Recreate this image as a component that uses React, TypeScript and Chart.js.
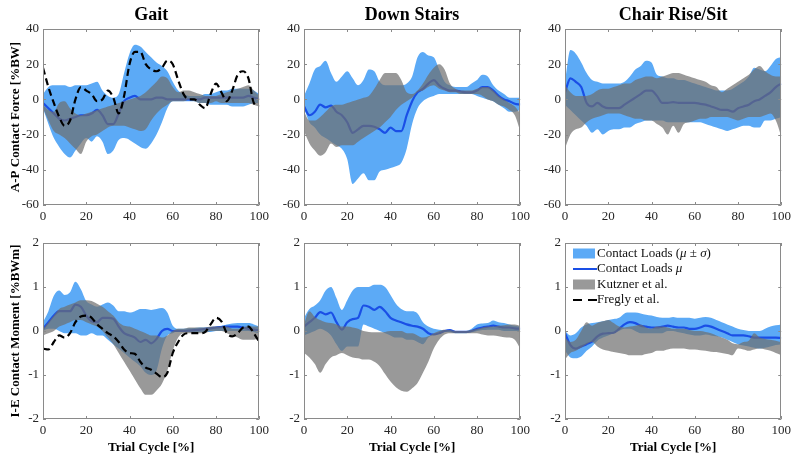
import React, { useEffect, useRef } from 'react';
import { Chart, registerables } from 'chart.js';

Chart.register(...registerables);

// ---------------- data ----------------
const TRIAL = [0, 2.5, 5, 7.5, 10, 12.5, 15, 17.5, 20, 22.5, 25, 27.5, 30, 32.5, 35, 37.5, 40, 42.5, 45, 47.5, 50, 52.5, 55, 57.5, 60, 62.5, 65, 67.5, 70, 72.5, 75, 77.5, 80, 82.5, 85, 87.5, 90, 92.5, 95, 97.5, 100];

const PANEL_TITLES = ['Gait', 'Down Stairs', 'Chair Rise/Sit'];
const Y_TITLES = ['A-P Contact Force [%BW]', 'I-E Contact Moment [%BWm]'];
const X_TITLE = 'Trial Cycle [%]';
const LEGEND_LABELS = ['Contact Loads (μ ± σ)', 'Contact Loads μ', 'Kutzner et al.', 'Fregly et al.'];

// Gait, A-P force
const GAIT_AP_BLUE_UP = [3, 7, 8, 8, 8, 7, 8, 8, 8, 9, 10, 5, 2, 1, 3, 15, 26, 31, 30, 27, 24, 21, 19, 16, 10, 5, 3, 2, 2, 2, 3, 3, 4, 5, 5, 6, 6, 6, 6, 5, 3];
const GAIT_AP_BLUE_LO = [-5, -14, -22, -27, -31, -33, -29, -25, -22, -24, -21, -24, -31, -29, -23, -22, -23, -25, -27, -28, -25, -20, -13, -5, -1, -1, -1, -1, -1, -2, -2, -3, -3, -3, -3, -4, -4, -4, -3, -2, -2];
const GAIT_AP_BLUE_MEAN = [-2, -5, -8, -11, -12, -11, -10, -9, -9, -8, -6, -9, -14, -14, -8, -1, 1, 2, 0, 0, 0, 1, 1, 0, 0, 0, 0, 0, 0, 0, 1, 1, 1, 1, 1, 1, 1, 1, 2, 1, 0];
const GAIT_AP_GRAY_UP = [-3, -6, -7, -2, -1, -5, -8, -9, -8, -7, -6, -5, -4, -3, -2, -1, 0, 1, 2, 4, 7, 10, 13, 12, 7, 4, 5, 5, 4, 3, 2, 2, 2, 3, 4, 5, 6, 7, 8, 5, 2];
const GAIT_AP_GRAY_LO = [-5, -12, -18, -20, -22, -25, -28, -31, -24, -21, -20, -18, -16, -15, -15, -15, -16, -17, -18, -17, -12, -8, -5, -3, -1, -1, -1, 0, -1, -2, -2, -2, -1, -2, -2, -2, -2, -2, -2, -3, -4];
const GAIT_AP_FREGLY = [18, 7, -2, -10, -15, -12, 0, 7, 5, 3, -1, 0, 5, 1, -8, 2, 20, 27, 27, 20, 17, 16, 18, 22, 20, 11, 3, 0, 0, -3, -5, 3, 9, 4, -1, 5, 14, 16, 12, -2, -4];

// Down stairs, A-P force
const DS_AP_BLUE_UP = [2, 9, 17, 19, 22, 15, 10, 13, 16, 12, 8, 11, 17, 16, 10, 8, 8, 8, 8, 9, 13, 24, 27, 25, 24, 17, 10, 8, 7, 7, 7, 9, 11, 14, 13, 8, 5, 3, 1, 1, 1];
const DS_AP_BLUE_LO = [-5, -13, -16, -20, -22, -24, -26, -28, -34, -48, -45, -42, -46, -46, -41, -40, -39, -38, -36, -28, -14, -5, -1, 1, 2, 3, 3, 3, 3, 3, 3, 3, 2, 1, 0, -1, -3, -5, -7, -7, -6];
const DS_AP_BLUE_MEAN = [-4, -9, -7, -3, -4.5, -3.5, -7, -9, -13, -19, -17, -15, -15, -15.5, -17, -19, -16, -18, -18, -9, -1, 4, 6, 9, 11, 8, 6, 5, 5, 4.5, 4, 4, 5, 7, 7, 5, 2, 0, -1, -2.5, -3];
const DS_AP_GRAY_UP = [-7, -12, -12, -10, -7, -4, -3, -3, -2, -1, 0, 1, 2, 6, 11, 15, 15, 15, 11, 4, 3, 5, 9, 14, 18, 20, 17, 9, 6, 5, 5, 5, 6, 7, 7, 5, 2, 0, -2, -4, -8];
const DS_AP_GRAY_LO = [-18, -25, -29, -32, -30, -25, -27, -26, -26, -26, -24, -22, -20, -18, -16, -13, -10, -6, -3, -1, 1, 4, 5, 7, 8, 6, 5, 4, 4, 3, 3, 3, 3, 2, 0, -1, -3, -4, -6, -9, -18];

// Chair rise/sit, A-P force
const CR_AP_BLUE_UP = [10, 28, 26, 21, 15, 11, 10, 9, 9, 9, 9, 10, 13, 17, 19, 22, 21, 14, 13, 12, 12, 11, 11, 10, 9, 8, 7, 6, 5, 5, 5, 6, 8, 10, 13, 18, 17, 16, 19, 23, 24];
const CR_AP_BLUE_LO = [-3, -6, -9, -12, -15, -19, -17, -20, -18, -17, -17, -16, -16, -14, -13, -12, -12, -12, -12, -13, -13, -13, -13, -13, -13, -13, -14, -15, -16, -17, -18, -17, -16, -15, -15, -16, -16, -12, -12, -11, -10];
const CR_AP_BLUE_MEAN = [4, 12, 10, 7, -2, -4, -2, -4, -5, -5, -5, -3, -1, 1, 3, 5, 5, 2, -2, -2, -1.5, -2, -2, -2, -2, -2.5, -3, -4, -5, -6, -6, -7, -5, -4, -3, -1, 0, 2, 4, 7, 9];
const CR_AP_GRAY_UP = [8, 4, 2, 2, 2, 3, 5, 6, 6, 7, 8, 9, 9, 11, 12, 13, 13, 12, 13, 14, 15, 15, 14, 13, 12, 11, 10, 8, 7, 4, 6, 8, 10, 12, 14, 17, 19, 16, 14, 13, 13];
const CR_AP_GRAY_LO = [-28, -20, -17, -16, -13, -11, -10, -9, -8, -8, -8, -9, -10, -11, -11, -12, -12, -14, -16, -20, -15, -19, -14, -13, -12, -11, -11, -10, -10, -10, -10, -11, -12, -11, -10, -10, -10, -9, -8, -12, -21];

// Gait, I-E moment
const GAIT_IE_BLUE_UP = [0.2, 0.45, 0.8, 0.92, 0.82, 0.88, 1.12, 0.95, 0.68, 0.6, 0.55, 0.6, 0.65, 0.58, 0.45, 0.45, 0.42, 0.45, 0.5, 0.5, 0.48, 0.5, 0.52, 0.42, 0.12, 0.05, 0.05, 0.06, 0.07, 0.08, 0.08, 0.09, 0.1, 0.12, 0.15, 0.17, 0.18, 0.18, 0.18, 0.15, 0.1];
const GAIT_IE_BLUE_LO = [0.0, 0.05, 0.05, 0.0, -0.05, -0.05, -0.05, -0.1, -0.1, -0.05, -0.1, -0.1, -0.2, -0.3, -0.4, -0.5, -0.6, -0.7, -0.8, -0.95, -1.0, -0.9, -0.4, -0.1, -0.05, 0, -0.02, -0.02, -0.02, -0.02, -0.02, -0.02, 0, 0, 0, 0, 0, 0, 0, -0.02, -0.05];
const GAIT_IE_BLUE_MEAN = [0.05, 0.2, 0.35, 0.45, 0.45, 0.45, 0.6, 0.55, 0.35, 0.22, 0.2, 0.3, 0.3, 0.28, 0.1, -0.05, -0.1, -0.15, -0.25, -0.2, -0.28, -0.18, 0, 0.05, 0, 0, 0, 0.01, 0.02, 0.03, 0.05, 0.06, 0.08, 0.09, 0.1, 0.1, 0.1, 0.08, 0.05, 0.03, 0.02];
const GAIT_IE_GRAY_UP = [0.05, 0.2, 0.35, 0.5, 0.55, 0.6, 0.65, 0.7, 0.7, 0.68, 0.62, 0.55, 0.45, 0.35, 0.2, 0.12, 0.1, 0.05, 0.0, -0.05, -0.1, -0.1, -0.15, -0.1, 0.0, 0.05, 0.05, 0.08, 0.08, 0.08, 0.08, 0.1, 0.1, 0.1, 0.1, 0.05, 0.05, 0.08, 0.12, 0.1, 0.1];
const GAIT_IE_GRAY_LO = [-0.1, -0.05, 0.0, 0.1, 0.15, 0.2, 0.25, 0.25, 0.2, 0.15, 0.1, 0.0, -0.15, -0.3, -0.5, -0.7, -0.9, -1.1, -1.3, -1.45, -1.45, -1.35, -1.2, -0.9, -0.45, -0.15, -0.05, -0.05, -0.05, -0.05, -0.05, 0, 0, 0, -0.05, -0.1, -0.15, -0.2, -0.2, -0.2, -0.15];
const GAIT_IE_FREGLY = [-0.4, -0.42, -0.25, -0.1, -0.15, -0.05, 0.2, 0.33, 0.35, 0.3, 0.15, 0.05, -0.05, -0.12, -0.25, -0.42, -0.5, -0.52, -0.7, -0.83, -0.88, -0.97, -1.05, -0.95, -0.5, -0.25, -0.08, -0.05, -0.05, -0.05, -0.02, 0.15, 0.3, 0.22, -0.05, -0.12, -0.05, 0.08, 0.1, -0.05, -0.25];

// Down stairs, I-E moment
const DS_IE_BLUE_UP = [0.3, 0.5, 0.58, 0.7, 0.92, 1.0, 0.75, 0.48, 0.7, 0.92, 1.0, 1.0, 1.0, 1.05, 1.05, 1.0, 0.82, 0.62, 0.5, 0.45, 0.45, 0.4, 0.2, 0.1, 0.05, 0.03, 0.02, 0, 0, 0, 0, 0.05, 0.15, 0.17, 0.18, 0.24, 0.2, 0.18, 0.15, 0.12, 0.1];
const DS_IE_BLUE_LO = [-0.1, -0.05, 0.0, 0.05, 0.0, -0.1, -0.3, -0.45, -0.35, -0.35, -0.35, 0.15, 0.1, 0.05, 0.0, -0.05, -0.1, -0.15, -0.15, -0.2, -0.2, -0.25, -0.3, -0.15, -0.08, -0.05, -0.02, -0.02, -0.05, -0.05, -0.05, -0.03, 0, 0.02, 0.03, 0.03, 0.03, 0, 0, 0, 0];
const DS_IE_BLUE_MEAN = [0.1, 0.2, 0.3, 0.43, 0.38, 0.42, 0.2, 0.03, 0.2, 0.27, 0.3, 0.58, 0.55, 0.48, 0.55, 0.45, 0.3, 0.24, 0.2, 0.15, 0.12, 0.1, 0.05, -0.05, -0.08, -0.05, 0, 0.02, -0.02, -0.02, -0.02, 0, 0.05, 0.08, 0.1, 0.12, 0.1, 0.08, 0.08, 0.06, 0.05];
const DS_IE_GRAY_UP = [0.15, 0.45, 0.32, 0.25, 0.2, 0.18, 0.15, 0.1, 0.1, 0.08, 0.05, 0, -0.02, -0.03, -0.03, -0.02, 0, 0, 0, -0.05, -0.05, -0.1, -0.15, -0.12, -0.05, 0, 0.03, 0.02, 0, 0, 0, 0.02, 0.05, 0.08, 0.1, 0.1, 0.12, 0.13, 0.15, 0.15, 0.12];
const DS_IE_GRAY_LO = [-0.5, -0.6, -0.75, -0.95, -0.75, -0.6, -0.55, -0.5, -0.55, -0.6, -0.62, -0.65, -0.65, -0.7, -0.8, -0.98, -1.15, -1.28, -1.36, -1.38, -1.3, -1.18, -0.95, -0.7, -0.4, -0.2, -0.08, -0.05, -0.05, -0.05, -0.05, -0.05, -0.05, -0.08, -0.1, -0.1, -0.12, -0.14, -0.15, -0.2, -0.4];

// Chair rise/sit, I-E moment
const CR_IE_BLUE_UP = [0.0, -0.1, -0.05, 0.08, 0.15, 0.18, 0.2, 0.22, 0.25, 0.27, 0.3, 0.4, 0.42, 0.42, 0.4, 0.37, 0.35, 0.32, 0.3, 0.3, 0.32, 0.3, 0.3, 0.3, 0.28, 0.3, 0.32, 0.3, 0.25, 0.2, 0.15, 0.1, 0.05, 0.02, 0.0, 0.0, 0.0, 0.05, 0.1, 0.13, 0.15];
const CR_IE_BLUE_LO = [-0.45, -0.6, -0.62, -0.58, -0.45, -0.35, -0.22, -0.15, -0.1, -0.05, 0.0, 0.05, 0.05, 0.0, -0.05, -0.05, -0.05, -0.05, -0.05, 0.0, 0.0, -0.03, -0.05, -0.08, -0.1, -0.1, -0.08, -0.1, -0.12, -0.15, -0.2, -0.25, -0.3, -0.33, -0.35, -0.38, -0.4, -0.38, -0.35, -0.32, -0.3];
const CR_IE_BLUE_MEAN = [-0.05, -0.32, -0.4, -0.35, -0.3, -0.24, -0.12, -0.06, -0.05, -0.04, 0.05, 0.15, 0.2, 0.18, 0.12, 0.1, 0.08, 0.08, 0.1, 0.12, 0.1, 0.08, 0.08, 0.05, 0.05, 0.08, 0.12, 0.1, 0.05, 0.0, -0.05, -0.1, -0.1, -0.1, -0.12, -0.15, -0.15, -0.15, -0.15, -0.15, -0.16];
const CR_IE_GRAY_UP = [-0.15, -0.25, -0.2, 0.0, 0.2, 0.12, 0.18, 0.22, 0.25, 0.18, 0.1, 0.08, 0.1, 0.12, 0.15, 0.08, 0.05, 0.1, 0.1, 0.08, 0.05, 0.05, 0.05, 0.02, 0.0, 0.0, -0.02, -0.05, -0.1, -0.15, -0.2, -0.28, -0.3, -0.25, -0.22, -0.05, -0.15, -0.18, -0.2, -0.22, -0.25];
const CR_IE_GRAY_LO = [-0.65, -0.5, -0.45, -0.38, -0.3, -0.25, -0.35, -0.42, -0.45, -0.48, -0.5, -0.52, -0.55, -0.55, -0.55, -0.52, -0.5, -0.45, -0.45, -0.42, -0.4, -0.4, -0.4, -0.42, -0.42, -0.44, -0.45, -0.47, -0.48, -0.5, -0.52, -0.55, -0.4, -0.42, -0.45, -0.42, -0.4, -0.42, -0.45, -0.5, -0.55];

const AP_TICKS = { min: -60, max: 40, step: 20 };
const IE_TICKS = { min: -2, max: 2, step: 1 };

// ---------------- styles ----------------
const FONT = '"Liberation Serif", "Times New Roman", serif';
const BLUE_BAND = 'rgb(92,170,246)';
const BLUE_LINE = '#1a4fe6';
const GRAY_BAND = 'rgba(110,110,110,0.7)';
const GRAY_PATCH = 'rgb(153,153,153)';
const FRAME = '#8a8a8a';
const TICK_COLOR = '#262626';

const PLOT_LEFT = [43, 304, 565];
const PLOT_W = 217;
const PLOT_TOP = [29, 243];
const PLOT_H = 176;
const Y_AXIS_W = 43;
const PAD_RIGHT = 13;

type PanelSpec = {
  row: number;
  col: number;
  bu: number[];
  bl: number[];
  bm: number[];
  gu: number[];
  gl: number[];
  fr?: number[];
};

const PANELS: PanelSpec[] = [
  { row: 0, col: 0, bu: GAIT_AP_BLUE_UP, bl: GAIT_AP_BLUE_LO, bm: GAIT_AP_BLUE_MEAN, gu: GAIT_AP_GRAY_UP, gl: GAIT_AP_GRAY_LO, fr: GAIT_AP_FREGLY },
  { row: 0, col: 1, bu: DS_AP_BLUE_UP, bl: DS_AP_BLUE_LO, bm: DS_AP_BLUE_MEAN, gu: DS_AP_GRAY_UP, gl: DS_AP_GRAY_LO },
  { row: 0, col: 2, bu: CR_AP_BLUE_UP, bl: CR_AP_BLUE_LO, bm: CR_AP_BLUE_MEAN, gu: CR_AP_GRAY_UP, gl: CR_AP_GRAY_LO },
  { row: 1, col: 0, bu: GAIT_IE_BLUE_UP, bl: GAIT_IE_BLUE_LO, bm: GAIT_IE_BLUE_MEAN, gu: GAIT_IE_GRAY_UP, gl: GAIT_IE_GRAY_LO, fr: GAIT_IE_FREGLY },
  { row: 1, col: 1, bu: DS_IE_BLUE_UP, bl: DS_IE_BLUE_LO, bm: DS_IE_BLUE_MEAN, gu: DS_IE_GRAY_UP, gl: DS_IE_GRAY_LO },
  { row: 1, col: 2, bu: CR_IE_BLUE_UP, bl: CR_IE_BLUE_LO, bm: CR_IE_BLUE_MEAN, gu: CR_IE_GRAY_UP, gl: CR_IE_GRAY_LO },
];

const pts = (arr: number[]) => TRIAL.map((x, i) => ({ x, y: arr[i] }));

const framePlugin = {
  id: 'matlabFrame',
  afterDatasetsDraw(chart: any) {
    const { ctx, chartArea, scales } = chart;
    const { left, right, top, bottom } = chartArea;
    ctx.save();
    ctx.strokeStyle = FRAME;
    ctx.lineWidth = 1;
    ctx.beginPath();
    ctx.rect(Math.round(left) + 0.5, Math.round(top) + 0.5, Math.round(right - left) - 1, Math.round(bottom - top) - 1);
    ctx.stroke();
    const L = 3;
    ctx.beginPath();
    scales.x.ticks.forEach((t: any) => {
      const px = Math.round(scales.x.getPixelForValue(t.value)) + 0.5;
      ctx.moveTo(px, bottom);
      ctx.lineTo(px, bottom - L);
      ctx.moveTo(px, top);
      ctx.lineTo(px, top + L);
    });
    scales.y.ticks.forEach((t: any) => {
      const py = Math.round(scales.y.getPixelForValue(t.value)) + 0.5;
      ctx.moveTo(left, py);
      ctx.lineTo(left + L, py);
      ctx.moveTo(right, py);
      ctx.lineTo(right - L, py);
    });
    ctx.stroke();
    ctx.restore();
  },
};

const LEGEND_STYLE = [
  { kind: 'patch', color: BLUE_BAND },
  { kind: 'line', color: BLUE_LINE, dash: [] as number[] },
  { kind: 'patch', color: GRAY_PATCH },
  { kind: 'line', color: '#000', dash: [9, 6] },
];

const splitItalic = (text: string) => {
  const segs: { t: string; it: boolean }[] = [];
  for (const ch of text) {
    const it = ch === 'μ' || ch === 'σ';
    const last = segs[segs.length - 1];
    if (last && last.it === it) last.t += ch;
    else segs.push({ t: ch, it });
  }
  return segs;
};

const legendPlugin = {
  id: 'insideLegend',
  afterDraw(chart: any, _args: any, opts: any) {
    if (!opts || !opts.show) return;
    const { ctx, chartArea } = chart;
    const x0 = chartArea.left + 8;
    ctx.save();
    LEGEND_LABELS.forEach((label, i) => {
      const st = LEGEND_STYLE[i];
      const cy = chartArea.top + 10.5 + i * 15.5;
      if (st.kind === 'patch') {
        ctx.fillStyle = st.color;
        ctx.fillRect(x0, cy - 5, 22, 10);
      } else {
        ctx.strokeStyle = st.color;
        ctx.lineWidth = 2;
        ctx.setLineDash(st.dash || []);
        ctx.beginPath();
        ctx.moveTo(x0, cy);
        ctx.lineTo(x0 + 24, cy);
        ctx.stroke();
        ctx.setLineDash([]);
      }
      let tx = x0 + 24;
      ctx.textBaseline = 'middle';
      ctx.textAlign = 'left';
      ctx.fillStyle = '#111';
      for (const seg of splitItalic(label)) {
        ctx.font = `${seg.it ? 'italic ' : ''}13px ${FONT}`;
        ctx.fillText(seg.t, tx, cy);
        tx += ctx.measureText(seg.t).width;
      }
    });
    ctx.restore();
  },
};

function Panel({ spec }: { spec: PanelSpec }) {
  const ref = useRef<HTMLCanvasElement>(null);
  const isTop = spec.row === 0;
  const xh = isTop ? 20 : 40;
  const padTop = isTop ? 2.4 : 12;
  const canvasLeft = PLOT_LEFT[spec.col] - Y_AXIS_W;
  const canvasTop = isTop ? 0 : PLOT_TOP[1] - padTop;
  const width = Y_AXIS_W + PLOT_W + PAD_RIGHT;
  const height = isTop ? PLOT_TOP[0] + PLOT_H + xh : padTop + PLOT_H + xh;

  useEffect(() => {
    if (!ref.current) return;
    const yr = isTop ? AP_TICKS : IE_TICKS;
    const base = { pointRadius: 0, pointHoverRadius: 0, cubicInterpolationMode: 'monotone' as const };
    const datasets: any[] = [
      { ...base, label: 'blue lower', data: pts(spec.bl), borderColor: 'transparent', borderWidth: 0, fill: false, order: 5 },
      { ...base, label: LEGEND_LABELS[0], data: pts(spec.bu), borderColor: 'transparent', borderWidth: 0, fill: '-1', backgroundColor: BLUE_BAND, order: 5 },
      { ...base, label: LEGEND_LABELS[1], data: pts(spec.bm), borderColor: BLUE_LINE, borderWidth: 2.2, fill: false, order: 4 },
      { ...base, label: 'gray lower', data: pts(spec.gl), borderColor: 'transparent', borderWidth: 0, fill: false, order: 3 },
      { ...base, label: LEGEND_LABELS[2], data: pts(spec.gu), borderColor: 'transparent', borderWidth: 0, fill: '-1', backgroundColor: GRAY_BAND, order: 3 },
    ];
    if (spec.fr) {
      datasets.push({ ...base, label: LEGEND_LABELS[3], data: pts(spec.fr), borderColor: '#000', borderWidth: 2.2, borderDash: [7, 4], fill: false, order: 1 });
    }
    const chart = new Chart(ref.current, {
      type: 'line',
      data: { datasets },
      plugins: [framePlugin, legendPlugin],
      options: {
        animation: false,
        responsive: false,
        devicePixelRatio: 1,
        layout: { padding: { left: 0, right: PAD_RIGHT, top: padTop, bottom: 0 } },
        plugins: {
          legend: { display: false },
          tooltip: { enabled: false },
          title: isTop
            ? { display: true, text: PANEL_TITLES[spec.col], fullSize: false, color: '#000', font: { family: FONT, size: 18, weight: 'bold' }, padding: { top: 2, bottom: 3 } }
            : { display: false },
          insideLegend: { show: spec.row === 1 && spec.col === 2 },
        } as any,
        scales: {
          x: {
            type: 'linear',
            min: 0,
            max: 100,
            grid: { display: false, drawTicks: false },
            border: { display: false },
            ticks: { stepSize: 20, padding: 4, color: TICK_COLOR, font: { family: FONT, size: 13 }, maxRotation: 0 },
            title: isTop
              ? { display: false }
              : { display: true, text: X_TITLE, color: '#000', font: { family: FONT, size: 13, weight: 'bold' }, padding: { top: 0, bottom: 4 } },
            afterFit: (s: any) => { s.height = xh; },
          },
          y: {
            type: 'linear',
            min: yr.min,
            max: yr.max,
            grid: { display: false, drawTicks: false },
            border: { display: false },
            ticks: { stepSize: yr.step, padding: 4, color: TICK_COLOR, font: { family: FONT, size: 13 } },
            title: spec.col === 0
              ? { display: true, text: Y_TITLES[spec.row], color: '#000', font: { family: FONT, size: 13, weight: 'bold' }, padding: { top: 8, bottom: 0 } }
              : { display: false },
            afterFit: (s: any) => { s.width = Y_AXIS_W; },
          },
        },
      } as any,
    });
    return () => chart.destroy();
  }, []);

  return (
    <canvas
      ref={ref}
      width={width}
      height={height}
      style={{ position: 'absolute', left: canvasLeft, top: canvasTop, width, height }}
    />
  );
}

export default function App() {
  return (
    <div style={{ position: 'absolute', left: 0, top: 0, width: 800, height: 462, background: '#fff', overflow: 'hidden' }}>
      {PANELS.map((p, i) => (
        <Panel key={i} spec={p} />
      ))}
    </div>
  );
}
